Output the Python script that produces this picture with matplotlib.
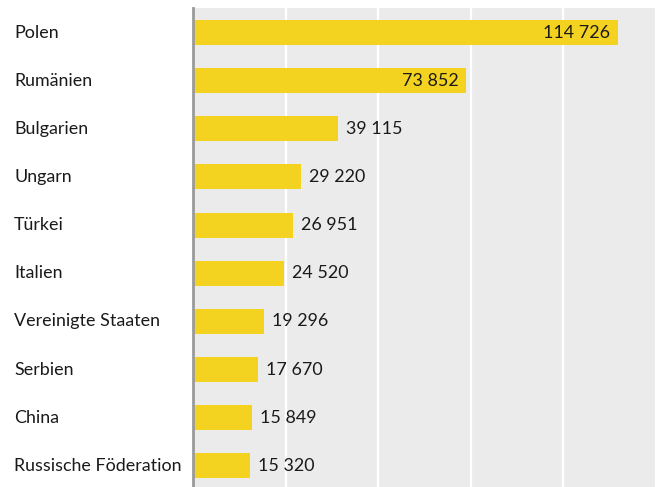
import matplotlib.pyplot as plt
from matplotlib.transforms import ScaledTranslation, blended_transform_factory

countries = ["Polen", "Rumänien", "Bulgarien", "Ungarn", "Türkei", "Italien",
             "Vereinigte Staaten", "Serbien", "China", "Russische Föderation"]
values = [114726, 73852, 39115, 29220, 26951, 24520, 19296, 17670, 15849, 15320]

plt.rcParams['font.family'] = ['Lato', 'DejaVu Sans']
fs = 12.9

fig = plt.figure(figsize=(6.61, 4.87), dpi=100)
ax = fig.add_axes([193/661, 0, (655-193)/661, (487-8)/487])
ax.set_facecolor("#ebebeb")

pos = list(range(len(countries)))
ax.barh(pos, values, height=0.52, color="#f4d320", zorder=3)

ax.set_xlim(0, 124800)
ax.set_ylim(9.44, -0.51)
ax.set_xticks([25000, 50000, 75000, 100000])
ax.grid(axis="x", color="white", linewidth=1.6, zorder=1)
ax.tick_params(length=0, labelbottom=False, labelleft=False)
for s in ["top", "right", "bottom"]:
    ax.spines[s].set_visible(False)
ax.spines["left"].set_color("#9a9a9a")
ax.spines["left"].set_linewidth(2)
ax.spines["left"].set_zorder(4)

# country names at left edge of figure
trans = blended_transform_factory(fig.transFigure, ax.transData)
for i, c in enumerate(countries):
    ax.text(14/661, i, c, transform=trans, ha="left", va="center",
            fontsize=fs, color="#1a1a1a")

def fmt(v):
    return f"{v:,}".replace(",", " ")

for i, v in enumerate(values):
    if v > 50000:
        off = ScaledTranslation(-8/100, 0, fig.dpi_scale_trans)
        ax.text(v, i, fmt(v), ha="right", va="center", fontsize=fs, color="#1a1a1a",
                transform=ax.transData + off, zorder=5)
    else:
        off = ScaledTranslation(8/100, 0, fig.dpi_scale_trans)
        ax.text(v, i, fmt(v), ha="left", va="center", fontsize=fs, color="#1a1a1a",
                transform=ax.transData + off, zorder=5)

fig.savefig("out.png", dpi=100)
